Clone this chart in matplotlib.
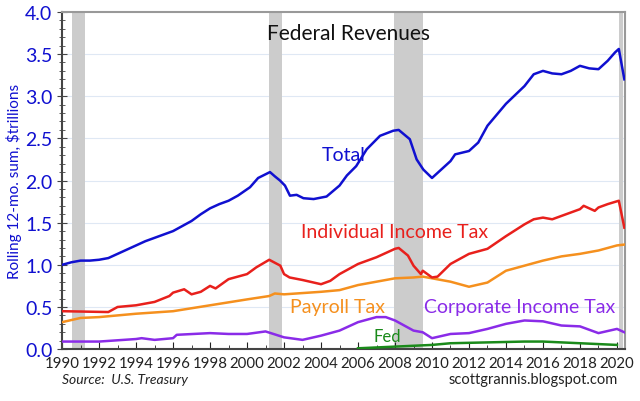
import matplotlib
matplotlib.use('Agg')
import matplotlib.pyplot as plt
from matplotlib.ticker import MultipleLocator

plt.rcParams['font.family'] = ['Lato', 'DejaVu Sans']

# values, $trillions (rolling 12-mo. sum)
total_yr = [1990.0, 1990.5, 1991.0, 1991.5, 1992.0, 1992.5, 1993.0, 1993.5, 1994.0, 1994.5,
            1995.0, 1995.5, 1996.0, 1996.5, 1997.0, 1997.5, 1998.0, 1998.5, 1999.0, 1999.5,
            2000.16, 2000.6, 2001.24, 2001.5, 2001.78, 2002.05, 2002.32, 2002.68, 2003.05, 2003.6,
            2004.3, 2005.0, 2005.4, 2005.9, 2006.47, 2007.19, 2007.9, 2008.2, 2008.8, 2009.17,
            2009.53, 2010.0, 2010.4, 2011.0, 2011.25, 2012.0, 2012.5, 2013.0, 2014.0, 2015.0,
            2015.5, 2016.0, 2016.5, 2017.0, 2017.5, 2018.0, 2018.5, 2019.0, 2019.5, 2019.9,
            2020.1, 2020.4]
total = [1.00, 1.03, 1.05, 1.05, 1.06, 1.08, 1.13, 1.18, 1.23, 1.28,
         1.32, 1.36, 1.40, 1.46, 1.52, 1.60, 1.67, 1.72, 1.76, 1.82,
         1.92, 2.03, 2.10, 2.05, 2.00, 1.94, 1.82, 1.83, 1.79, 1.78,
         1.81, 1.94, 2.06, 2.17, 2.37, 2.53, 2.59, 2.60, 2.49, 2.25,
         2.13, 2.03, 2.11, 2.23, 2.31, 2.35, 2.45, 2.65, 2.91, 3.12,
         3.26, 3.30, 3.27, 3.26, 3.30, 3.36, 3.33, 3.32, 3.42, 3.52,
         3.56, 3.20]

indiv_yr = [1990.0, 1992.5, 1993.0, 1994.0, 1995.0, 1995.8, 1996.0, 1996.6, 1997.0, 1997.5,
            1998.0, 1998.3, 1999.0, 2000.0, 2000.5, 2001.2, 2001.8, 2002.0, 2002.3, 2003.0,
            2004.0, 2004.5, 2005.0, 2006.0, 2007.0, 2008.0, 2008.2, 2008.7, 2009.0, 2009.4,
            2009.5, 2010.0, 2010.3, 2011.0, 2012.0, 2013.0, 2014.0, 2015.0, 2015.5, 2016.0,
            2016.5, 2017.0, 2018.0, 2018.2, 2018.8, 2019.0, 2019.5, 2020.1, 2020.4]
indiv = [0.45, 0.44, 0.50, 0.52, 0.56, 0.63, 0.67, 0.71, 0.65, 0.68,
         0.75, 0.72, 0.83, 0.89, 0.97, 1.06, 0.99, 0.89, 0.85, 0.82,
         0.77, 0.81, 0.89, 1.01, 1.09, 1.19, 1.20, 1.11, 0.99, 0.89,
         0.93, 0.85, 0.86, 1.01, 1.13, 1.19, 1.34, 1.48, 1.54, 1.56,
         1.54, 1.58, 1.66, 1.70, 1.64, 1.68, 1.72, 1.76, 1.44]

payroll_yr = [1990.0, 1991.0, 1992.0, 1994.0, 1996.0, 1998.0, 2000.0, 2001.2, 2001.5, 2002.0,
              2004.0, 2005.0, 2006.0, 2007.0, 2008.0, 2009.0, 2009.5, 2010.0, 2011.0, 2012.0,
              2013.0, 2014.0, 2015.0, 2016.0, 2017.0, 2018.0, 2019.0, 2020.0, 2020.4]
payroll = [0.32, 0.37, 0.38, 0.42, 0.45, 0.52, 0.59, 0.63, 0.66, 0.65,
           0.68, 0.70, 0.76, 0.80, 0.84, 0.85, 0.86, 0.84, 0.80, 0.74,
           0.79, 0.93, 0.99, 1.05, 1.10, 1.13, 1.17, 1.23, 1.24]

corp_yr = [1990.0, 1992.0, 1994.0, 1994.3, 1995.0, 1996.0, 1996.2, 1998.0, 1999.0, 2000.0,
           2001.0, 2002.0, 2003.0, 2004.0, 2005.0, 2006.0, 2007.0, 2007.5, 2008.0, 2009.0,
           2009.5, 2010.0, 2011.0, 2012.0, 2013.0, 2014.0, 2015.0, 2016.0, 2017.0, 2018.0,
           2019.0, 2020.0, 2020.4]
corp = [0.09, 0.09, 0.12, 0.13, 0.11, 0.13, 0.17, 0.19, 0.18, 0.18,
        0.21, 0.14, 0.11, 0.16, 0.22, 0.32, 0.38, 0.38, 0.34, 0.22,
        0.20, 0.13, 0.18, 0.19, 0.24, 0.30, 0.34, 0.33, 0.28, 0.27,
        0.19, 0.24, 0.20]

fed_yr = [2006.0, 2008.0, 2010.0, 2011.0, 2013.0, 2015.0, 2016.0, 2018.0, 2020.0]
fed = [0.01, 0.03, 0.05, 0.07, 0.08, 0.09, 0.09, 0.07, 0.05]

recessions = [(1990.55, 1991.25), (2001.2, 2001.9), (2007.95, 2009.5), (2020.1, 2020.35)]

blue = '#1010d0'
red = '#e8201c'
orange = '#f5901e'
purple = '#8a2be8'
green = '#1a8a1a'

fig = plt.figure(figsize=(6.4, 4.02), dpi=100)
ax = fig.add_axes([0.097, 0.129, 0.880, 0.839])

for a, b in recessions:
    ax.axvspan(a, b, color='#cccccc', lw=0, zorder=1)

for v in [0.5, 1.0, 1.5, 2.0, 2.5, 3.0, 3.5]:
    ax.axhline(v, color='#dfe8f4', lw=0.8, zorder=0)

ax.plot(fed_yr, fed, color=green, lw=1.8, zorder=3)
ax.plot(corp_yr, corp, color=purple, lw=1.8, zorder=3)
ax.plot(payroll_yr, payroll, color=orange, lw=1.8, zorder=3)
ax.plot(indiv_yr, indiv, color=red, lw=1.8, zorder=3)
ax.plot(total_yr, total, color=blue, lw=1.8, zorder=3)

ax.set_xlim(1990, 2020.45)
ax.set_ylim(0, 4.0)
ax.xaxis.set_major_locator(MultipleLocator(2))
ax.xaxis.set_minor_locator(MultipleLocator(1))
ax.yaxis.set_major_locator(MultipleLocator(0.5))
ax.yaxis.set_minor_locator(MultipleLocator(0.1))
ax.yaxis.set_major_formatter(matplotlib.ticker.FormatStrFormatter('%.1f'))
ax.tick_params(axis='x', which='both', direction='in', labelsize=10.8, pad=5, colors='#222222')
ax.tick_params(axis='x', which='major', length=5)
ax.tick_params(axis='x', which='minor', length=3)
ax.tick_params(axis='y', which='both', direction='inout', labelsize=14, colors='#444444')
ax.tick_params(axis='y', which='major', length=7)
ax.tick_params(axis='y', which='minor', length=4)
for lab in ax.get_yticklabels():
    lab.set_color(blue)

for s in ['top', 'right']:
    ax.spines[s].set_color('#999999')
    ax.spines[s].set_linewidth(1.5)
for s in ['left', 'bottom']:
    ax.spines[s].set_color('#444444')
    ax.spines[s].set_linewidth(1.5)

ax.set_ylabel('Rolling 12-mo. sum, $trillions', color=blue, fontsize=11, labelpad=2)

ax.text(2005.5, 3.75, 'Federal Revenues', fontsize=15, color='#111111', ha='center', va='center')
ax.text(2005.2, 2.31, 'Total', fontsize=14, color=blue, ha='center', va='center')
ax.text(2007.95, 1.40, 'Individual Income Tax', fontsize=14, color=red, ha='center', va='center')
ax.text(2004.9, 0.50, 'Payroll Tax', fontsize=14, color=orange, ha='center', va='center')
ax.text(2014.75, 0.50, 'Corporate Income Tax', fontsize=14, color=purple, ha='center', va='center')
ax.text(2007.6, 0.16, 'Fed', fontsize=12, color=green, ha='center', va='center')

fig.text(0.097, 0.045, 'Source:  U.S. Treasury', fontsize=10, style='italic', color='#222222', ha='left')
fig.text(0.965, 0.045, 'scottgrannis.blogspot.com', fontsize=10.5, color='#222222', ha='right')

fig.savefig('out.png', dpi=100)
